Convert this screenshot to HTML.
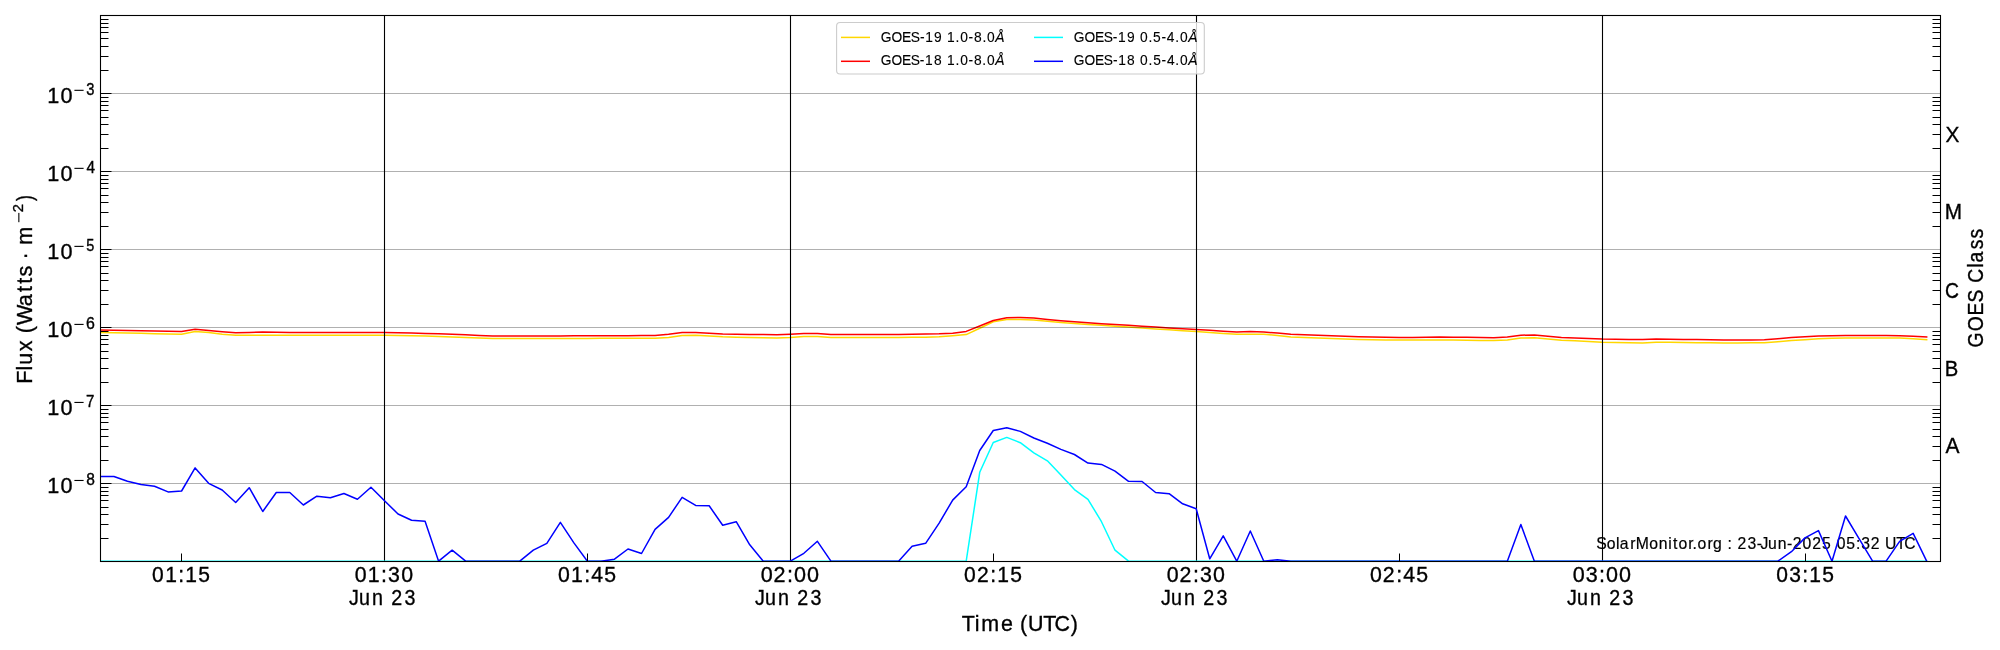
<!DOCTYPE html>
<html><head><meta charset="utf-8"><style>
html,body{margin:0;padding:0;background:#fff;width:2000px;height:650px;overflow:hidden;}
svg{display:block;will-change:transform;}
text{font-family:"Liberation Sans",sans-serif;stroke:#000;stroke-width:0.35px;}
</style></head><body>
<svg width="2000" height="650" viewBox="0 0 2000 650">
<rect x="0" y="0" width="2000" height="650" fill="#fff"/>
<text transform="translate(0,548.90) scale(0.9779,1.0000)" x="1632.44 1643.00 1652.64 1656.33 1667.02 1672.65 1686.41 1696.18 1705.97 1710.71 1716.36 1726.46 1730.85 1735.89 1745.99 1751.68 1761.22 1766.59 1771.46 1776.72 1786.89 1796.47 1800.42 1807.89 1817.87 1827.41 1833.20 1843.35 1853.09 1863.19 1872.70 1878.17 1888.05 1897.97 1903.35 1913.07 1922.73 1927.61 1939.01 1947.34" y="0" font-size="16.11" fill="#000" style="white-space:pre;stroke-width:0.2px">SolarMonitor.org : 23-Jun-2025 05:32 UTC</text>
<defs><clipPath id="ax"><rect x="100.5" y="15.5" width="1840.0" height="546.0"/></clipPath></defs>
<g clip-path="url(#ax)" fill="none" stroke-width="1.5" stroke-linejoin="round" stroke-linecap="square">
<path d="M100.41 332.50 L113.94 332.78 L127.47 333.07 L141.00 333.35 L154.52 333.63 L168.05 333.92 L181.58 334.20 L195.11 331.40 L208.64 332.50 L222.16 334.30 L235.69 335.30 L249.22 335.20 L262.75 335.20 L276.28 335.20 L289.80 335.20 L303.33 335.20 L316.86 335.20 L330.39 335.20 L343.92 335.20 L357.44 335.20 L370.97 335.20 L384.50 335.20 L398.03 335.47 L411.56 335.73 L425.08 336.00 L438.61 336.50 L452.14 337.00 L465.67 337.50 L479.20 338.00 L492.72 338.50 L506.25 338.48 L519.78 338.47 L533.31 338.45 L546.84 338.43 L560.36 338.42 L573.89 338.40 L587.42 338.38 L600.95 338.37 L614.48 338.35 L628.00 338.33 L641.53 338.32 L655.06 338.30 L668.59 337.50 L682.12 335.50 L695.64 335.20 L709.17 336.00 L722.70 336.80 L736.23 337.20 L749.76 337.60 L763.28 337.80 L776.81 338.00 L790.34 337.50 L803.87 336.40 L817.40 336.60 L830.92 337.50 L844.45 337.48 L857.98 337.46 L871.51 337.44 L885.04 337.42 L898.56 337.40 L912.09 337.30 L925.62 337.20 L939.15 336.80 L952.68 335.80 L966.20 334.60 L979.73 328.30 L993.26 321.80 L1006.79 319.40 L1020.32 319.40 L1033.84 319.90 L1047.37 321.30 L1060.90 322.50 L1074.43 323.50 L1087.96 324.40 L1101.48 325.30 L1115.01 326.20 L1128.54 327.10 L1142.07 328.00 L1155.60 328.90 L1169.12 329.80 L1182.65 330.70 L1196.18 331.60 L1209.71 332.50 L1223.24 333.40 L1236.76 334.30 L1250.29 334.25 L1263.82 334.20 L1277.35 335.60 L1290.88 337.00 L1304.40 337.52 L1317.93 338.05 L1331.46 338.58 L1344.99 339.10 L1358.52 339.43 L1372.04 339.77 L1385.57 340.10 L1399.10 340.08 L1412.63 340.05 L1426.16 340.02 L1439.68 340.00 L1453.21 340.12 L1466.74 340.25 L1480.27 340.38 L1493.80 340.50 L1507.32 340.00 L1520.85 338.00 L1534.38 337.80 L1547.91 339.00 L1561.44 340.20 L1574.96 340.87 L1588.49 341.53 L1602.02 342.20 L1615.55 342.43 L1629.08 342.67 L1642.60 342.90 L1656.13 342.20 L1669.66 342.35 L1683.19 342.50 L1696.72 342.67 L1710.24 342.83 L1723.77 343.00 L1737.30 342.93 L1750.83 342.87 L1764.36 342.80 L1777.88 341.65 L1791.41 340.50 L1804.94 339.65 L1818.47 338.80 L1832.00 338.35 L1845.52 337.90 L1859.05 337.90 L1872.58 337.90 L1886.11 338.00 L1899.64 338.10 L1913.16 338.85 L1926.69 339.60" stroke="#ffd700"/>
<path d="M100.41 330.00 L113.94 330.27 L127.47 330.53 L141.00 330.80 L154.52 331.07 L168.05 331.33 L181.58 331.60 L195.11 329.20 L208.64 330.50 L222.16 331.80 L235.69 332.80 L249.22 332.50 L262.75 332.00 L276.28 332.30 L289.80 332.60 L303.33 332.59 L316.86 332.57 L330.39 332.56 L343.92 332.54 L357.44 332.53 L370.97 332.51 L384.50 332.50 L398.03 332.80 L411.56 333.10 L425.08 333.40 L438.61 333.87 L452.14 334.33 L465.67 334.80 L479.20 335.40 L492.72 336.00 L506.25 335.98 L519.78 335.95 L533.31 335.93 L546.84 335.90 L560.36 335.88 L573.89 335.85 L587.42 335.82 L600.95 335.80 L614.48 335.73 L628.00 335.65 L641.53 335.57 L655.06 335.50 L668.59 334.20 L682.12 332.50 L695.64 332.50 L709.17 333.20 L722.70 334.00 L736.23 334.20 L749.76 334.40 L763.28 334.60 L776.81 334.80 L790.34 334.20 L803.87 333.40 L817.40 333.50 L830.92 334.50 L844.45 334.48 L857.98 334.46 L871.51 334.44 L885.04 334.42 L898.56 334.40 L912.09 334.30 L925.62 334.10 L939.15 333.80 L952.68 333.20 L966.20 331.40 L979.73 326.00 L993.26 320.50 L1006.79 317.70 L1020.32 317.40 L1033.84 318.10 L1047.37 319.50 L1060.90 320.70 L1074.43 321.80 L1087.96 322.80 L1101.48 323.65 L1115.01 324.50 L1128.54 325.35 L1142.07 326.20 L1155.60 327.05 L1169.12 327.90 L1182.65 328.75 L1196.18 329.60 L1209.71 330.37 L1223.24 331.13 L1236.76 331.90 L1250.29 331.60 L1263.82 332.00 L1277.35 333.10 L1290.88 334.20 L1304.40 334.73 L1317.93 335.25 L1331.46 335.77 L1344.99 336.30 L1358.52 336.63 L1372.04 336.97 L1385.57 337.30 L1399.10 337.40 L1412.63 337.50 L1426.16 337.25 L1439.68 337.00 L1453.21 337.18 L1466.74 337.35 L1480.27 337.52 L1493.80 337.70 L1507.32 337.00 L1520.85 335.20 L1534.38 335.00 L1547.91 336.20 L1561.44 337.40 L1574.96 337.97 L1588.49 338.53 L1602.02 339.10 L1615.55 339.27 L1629.08 339.43 L1642.60 339.60 L1656.13 339.00 L1669.66 339.20 L1683.19 339.40 L1696.72 339.60 L1710.24 339.80 L1723.77 340.00 L1737.30 340.00 L1750.83 340.00 L1764.36 339.80 L1777.88 338.65 L1791.41 337.50 L1804.94 336.80 L1818.47 336.10 L1832.00 335.75 L1845.52 335.40 L1859.05 335.40 L1872.58 335.40 L1886.11 335.60 L1899.64 335.80 L1913.16 336.35 L1926.69 336.90" stroke="#ff0000"/>
</g>
<path d="M100.5 483.5H1940.5M100.5 405.5H1940.5M100.5 327.5H1940.5M100.5 249.5H1940.5M100.5 171.5H1940.5M100.5 93.5H1940.5" stroke="#000" stroke-opacity="0.31" stroke-width="1.0" fill="none"/>
<path d="M384.5 15.5V561.5M790.5 15.5V561.5M1196.5 15.5V561.5M1602.5 15.5V561.5" stroke="#000" stroke-width="1.1" fill="none"/>
<g clip-path="url(#ax)" fill="none" stroke-width="1.5" stroke-linejoin="round" stroke-linecap="square">
<path d="M100.41 561.20 L113.94 561.20 L127.47 561.20 L141.00 561.20 L154.52 561.20 L168.05 561.20 L181.58 561.20 L195.11 561.20 L208.64 561.20 L222.16 561.20 L235.69 561.20 L249.22 561.20 L262.75 561.20 L276.28 561.20 L289.80 561.20 L303.33 561.20 L316.86 561.20 L330.39 561.20 L343.92 561.20 L357.44 561.20 L370.97 561.20 L384.50 561.20 L398.03 561.20 L411.56 561.20 L425.08 561.20 L438.61 561.20 L452.14 561.20 L465.67 561.20 L479.20 561.20 L492.72 561.20 L506.25 561.20 L519.78 561.20 L533.31 561.20 L546.84 561.20 L560.36 561.20 L573.89 561.20 L587.42 561.20 L600.95 561.20 L614.48 561.20 L628.00 561.20 L641.53 561.20 L655.06 561.20 L668.59 561.20 L682.12 561.20 L695.64 561.20 L709.17 561.20 L722.70 561.20 L736.23 561.20 L749.76 561.20 L763.28 561.20 L776.81 561.20 L790.34 561.20 L803.87 561.20 L817.40 561.20 L830.92 561.20 L844.45 561.20 L857.98 561.20 L871.51 561.20 L885.04 561.20 L898.56 561.20 L912.09 561.20 L925.62 561.20 L939.15 561.20 L952.68 561.20 L966.20 561.20 L979.73 472.30 L993.26 442.50 L1006.79 437.40 L1020.32 442.70 L1033.84 452.90 L1047.37 460.80 L1060.90 475.00 L1074.43 489.60 L1087.96 499.30 L1101.48 521.70 L1115.01 550.20 L1128.54 561.20 L1142.07 561.20 L1155.60 561.20 L1169.12 561.20 L1182.65 561.20 L1196.18 561.20 L1209.71 561.20 L1223.24 561.20 L1236.76 561.20 L1250.29 561.20 L1263.82 561.20 L1277.35 561.20 L1290.88 561.20 L1304.40 561.20 L1317.93 561.20 L1331.46 561.20 L1344.99 561.20 L1358.52 561.20 L1372.04 561.20 L1385.57 561.20 L1399.10 561.20 L1412.63 561.20 L1426.16 561.20 L1439.68 561.20 L1453.21 561.20 L1466.74 561.20 L1480.27 561.20 L1493.80 561.20 L1507.32 561.20 L1520.85 561.20 L1534.38 561.20 L1547.91 561.20 L1561.44 561.20 L1574.96 561.20 L1588.49 561.20 L1602.02 561.20 L1615.55 561.20 L1629.08 561.20 L1642.60 561.20 L1656.13 561.20 L1669.66 561.20 L1683.19 561.20 L1696.72 561.20 L1710.24 561.20 L1723.77 561.20 L1737.30 561.20 L1750.83 561.20 L1764.36 561.20 L1777.88 561.20 L1791.41 561.20 L1804.94 561.20 L1818.47 561.20 L1832.00 561.20 L1845.52 561.20 L1859.05 561.20 L1872.58 561.20 L1886.11 561.20 L1899.64 561.20 L1913.16 561.20 L1926.69 561.20" stroke="#00ffff"/>
<path d="M100.41 476.50 L113.94 476.50 L127.47 481.30 L141.00 484.60 L154.52 486.20 L168.05 491.90 L181.58 491.00 L195.11 467.90 L208.64 483.30 L222.16 490.00 L235.69 502.50 L249.22 487.70 L262.75 511.50 L276.28 492.50 L289.80 492.50 L303.33 505.00 L316.86 496.20 L330.39 497.70 L343.92 493.50 L357.44 499.20 L370.97 487.30 L384.50 500.70 L398.03 514.00 L411.56 520.20 L425.08 521.30 L438.61 561.20 L452.14 550.20 L465.67 561.20 L479.20 561.20 L492.72 561.20 L506.25 561.20 L519.78 561.20 L533.31 550.20 L546.84 543.30 L560.36 522.30 L573.89 542.90 L587.42 561.20 L600.95 561.20 L614.48 559.20 L628.00 549.00 L641.53 553.50 L655.06 529.40 L668.59 517.40 L682.12 497.30 L695.64 505.40 L709.17 505.80 L722.70 525.20 L736.23 521.70 L749.76 544.80 L763.28 561.20 L776.81 561.20 L790.34 561.20 L803.87 553.30 L817.40 541.30 L830.92 561.20 L844.45 561.20 L857.98 561.20 L871.51 561.20 L885.04 561.20 L898.56 561.20 L912.09 546.30 L925.62 543.30 L939.15 523.10 L952.68 500.10 L966.20 486.80 L979.73 450.50 L993.26 430.50 L1006.79 427.80 L1020.32 431.40 L1033.84 438.00 L1047.37 443.30 L1060.90 449.40 L1074.43 454.50 L1087.96 463.10 L1101.48 464.40 L1115.01 471.20 L1128.54 481.30 L1142.07 481.50 L1155.60 492.50 L1169.12 493.70 L1182.65 503.80 L1196.18 508.70 L1209.71 558.80 L1223.24 535.80 L1236.76 561.20 L1250.29 531.00 L1263.82 561.20 L1277.35 559.80 L1290.88 561.20 L1304.40 561.20 L1317.93 561.20 L1331.46 561.20 L1344.99 561.20 L1358.52 561.20 L1372.04 561.20 L1385.57 561.20 L1399.10 561.20 L1412.63 561.20 L1426.16 561.20 L1439.68 561.20 L1453.21 561.20 L1466.74 561.20 L1480.27 561.20 L1493.80 561.20 L1507.32 561.20 L1520.85 524.50 L1534.38 561.20 L1547.91 561.20 L1561.44 561.20 L1574.96 561.20 L1588.49 561.20 L1602.02 561.20 L1615.55 561.20 L1629.08 561.20 L1642.60 561.20 L1656.13 561.20 L1669.66 561.20 L1683.19 561.20 L1696.72 561.20 L1710.24 561.20 L1723.77 561.20 L1737.30 561.20 L1750.83 561.20 L1764.36 561.20 L1777.88 561.20 L1791.41 551.70 L1804.94 537.90 L1818.47 530.60 L1832.00 561.20 L1845.52 516.00 L1859.05 538.70 L1872.58 561.20 L1886.11 561.20 L1899.64 541.40 L1913.16 533.30 L1926.69 561.20" stroke="#0000ff"/>
</g>
<rect x="836.6" y="22.5" width="367.7" height="51.5" rx="3.5" ry="3.5" fill="#fff" fill-opacity="0.8" stroke="#cccccc" stroke-width="1.1"/>
<path d="M841 37.4H870" stroke="#ffd700" stroke-width="1.5"/>
<path d="M841 61.3H870" stroke="#ff0000" stroke-width="1.5"/>
<path d="M1034 37.4H1063" stroke="#00ffff" stroke-width="1.5"/>
<path d="M1034 61.3H1063" stroke="#0000ff" stroke-width="1.5"/>
<rect x="100.5" y="15.5" width="1840.0" height="546.0" fill="none" stroke="#000" stroke-width="1.1"/>
<path d="M100.5 538.5h8M1940.5 538.5h-8M100.5 524.5h8M1940.5 524.5h-8M100.5 514.5h8M1940.5 514.5h-8M100.5 507.5h8M1940.5 507.5h-8M100.5 500.5h8M1940.5 500.5h-8M100.5 495.5h8M1940.5 495.5h-8M100.5 491.5h8M1940.5 491.5h-8M100.5 487.5h8M1940.5 487.5h-8M100.5 460.5h8M1940.5 460.5h-8M100.5 446.5h8M1940.5 446.5h-8M100.5 436.5h8M1940.5 436.5h-8M100.5 429.5h8M1940.5 429.5h-8M100.5 422.5h8M1940.5 422.5h-8M100.5 417.5h8M1940.5 417.5h-8M100.5 413.5h8M1940.5 413.5h-8M100.5 409.5h8M1940.5 409.5h-8M100.5 382.5h8M1940.5 382.5h-8M100.5 368.5h8M1940.5 368.5h-8M100.5 358.5h8M1940.5 358.5h-8M100.5 351.5h8M1940.5 351.5h-8M100.5 344.5h8M1940.5 344.5h-8M100.5 339.5h8M1940.5 339.5h-8M100.5 335.5h8M1940.5 335.5h-8M100.5 331.5h8M1940.5 331.5h-8M100.5 304.5h8M1940.5 304.5h-8M100.5 290.5h8M1940.5 290.5h-8M100.5 280.5h8M1940.5 280.5h-8M100.5 273.5h8M1940.5 273.5h-8M100.5 266.5h8M1940.5 266.5h-8M100.5 261.5h8M1940.5 261.5h-8M100.5 257.5h8M1940.5 257.5h-8M100.5 253.5h8M1940.5 253.5h-8M100.5 226.5h8M1940.5 226.5h-8M100.5 212.5h8M1940.5 212.5h-8M100.5 202.5h8M1940.5 202.5h-8M100.5 195.5h8M1940.5 195.5h-8M100.5 188.5h8M1940.5 188.5h-8M100.5 183.5h8M1940.5 183.5h-8M100.5 179.5h8M1940.5 179.5h-8M100.5 175.5h8M1940.5 175.5h-8M100.5 148.5h8M1940.5 148.5h-8M100.5 134.5h8M1940.5 134.5h-8M100.5 124.5h8M1940.5 124.5h-8M100.5 117.5h8M1940.5 117.5h-8M100.5 110.5h8M1940.5 110.5h-8M100.5 105.5h8M1940.5 105.5h-8M100.5 101.5h8M1940.5 101.5h-8M100.5 97.5h8M1940.5 97.5h-8M100.5 70.5h8M1940.5 70.5h-8M100.5 56.5h8M1940.5 56.5h-8M100.5 46.5h8M1940.5 46.5h-8M100.5 38.5h8M1940.5 38.5h-8M100.5 32.5h8M1940.5 32.5h-8M100.5 27.5h8M1940.5 27.5h-8M100.5 23.5h8M1940.5 23.5h-8M100.5 19.5h8M1940.5 19.5h-8M100.5 483.5h11M100.5 405.5h11M100.5 327.5h11M100.5 249.5h11M100.5 171.5h11M100.5 93.5h11M181.5 561.5v-8M587.5 561.5v-8M993.5 561.5v-8M1399.5 561.5v-8M1805.5 561.5v-8" stroke="#000" stroke-width="1.0" fill="none"/>
<text transform="translate(0,492.87) scale(0.9808,1.0000)" x="48.06 61.78" y="0" font-size="22.07" fill="#000" style="white-space:pre">10</text>
<rect x="74.4" y="479.92" width="9.2" height="1.1" fill="#000"/>
<text transform="translate(0,484.77) scale(1.0056,1.1000)" x="85.74" y="0" font-size="15.45" fill="#000" style="white-space:pre">8</text>
<text transform="translate(0,414.84) scale(0.9808,1.0000)" x="48.06 61.78" y="0" font-size="22.07" fill="#000" style="white-space:pre">10</text>
<rect x="74.4" y="401.89" width="9.2" height="1.1" fill="#000"/>
<text transform="translate(0,406.74) scale(0.9732,1.1000)" x="88.50" y="0" font-size="15.45" fill="#000" style="white-space:pre">7</text>
<text transform="translate(0,336.81) scale(0.9808,1.0000)" x="48.06 61.78" y="0" font-size="22.07" fill="#000" style="white-space:pre">10</text>
<rect x="74.4" y="323.86" width="9.2" height="1.1" fill="#000"/>
<text transform="translate(0,328.71) scale(1.0296,1.1000)" x="83.61" y="0" font-size="15.45" fill="#000" style="white-space:pre">6</text>
<text transform="translate(0,258.78) scale(0.9808,1.0000)" x="48.06 61.78" y="0" font-size="22.07" fill="#000" style="white-space:pre">10</text>
<rect x="74.4" y="245.83" width="9.2" height="1.1" fill="#000"/>
<text transform="translate(0,250.68) scale(0.9389,1.1000)" x="91.94" y="0" font-size="15.45" fill="#000" style="white-space:pre">5</text>
<text transform="translate(0,180.75) scale(0.9808,1.0000)" x="48.06 61.78" y="0" font-size="22.07" fill="#000" style="white-space:pre">10</text>
<rect x="74.4" y="167.80" width="9.2" height="1.1" fill="#000"/>
<text transform="translate(0,172.65) scale(0.9950,1.1000)" x="86.98" y="0" font-size="15.45" fill="#000" style="white-space:pre">4</text>
<text transform="translate(0,102.72) scale(0.9808,1.0000)" x="48.06 61.78" y="0" font-size="22.07" fill="#000" style="white-space:pre">10</text>
<rect x="74.4" y="89.77" width="9.2" height="1.1" fill="#000"/>
<text transform="translate(0,94.62) scale(0.9554,1.1000)" x="90.37" y="0" font-size="15.45" fill="#000" style="white-space:pre">3</text>
<text transform="translate(0,581.80) scale(0.9525,1.0000)" x="159.71 173.37 187.10 194.44 208.24" y="0" font-size="22.07" fill="#000" style="white-space:pre">01:15</text>
<text transform="translate(0,581.80) scale(0.9670,1.0000)" x="366.93 380.39 393.96 401.28 414.82" y="0" font-size="22.07" fill="#000" style="white-space:pre">01:30</text>
<text transform="translate(0,604.80) scale(0.8919,1.0000)" x="391.42 402.47 417.10 430.45 438.59 453.51" y="0" font-size="22.07" fill="#000" style="white-space:pre">Jun 23</text>
<text transform="translate(0,581.80) scale(0.9633,1.0000)" x="579.30 592.81 606.42 613.75 627.29" y="0" font-size="22.07" fill="#000" style="white-space:pre">01:45</text>
<text transform="translate(0,581.80) scale(0.9780,1.0000)" x="777.86 791.00 804.62 811.80 825.21" y="0" font-size="22.07" fill="#000" style="white-space:pre">02:00</text>
<text transform="translate(0,604.80) scale(0.8919,1.0000)" x="846.64 857.68 872.32 885.67 893.81 908.73" y="0" font-size="22.07" fill="#000" style="white-space:pre">Jun 23</text>
<text transform="translate(0,581.80) scale(0.9544,1.0000)" x="1010.20 1023.66 1037.54 1044.87 1058.64" y="0" font-size="22.07" fill="#000" style="white-space:pre">02:15</text>
<text transform="translate(0,581.80) scale(0.9686,1.0000)" x="1204.58 1217.85 1231.57 1238.87 1252.39" y="0" font-size="22.07" fill="#000" style="white-space:pre">02:30</text>
<text transform="translate(0,604.80) scale(0.8919,1.0000)" x="1301.85 1312.90 1327.54 1340.89 1349.03 1363.95" y="0" font-size="22.07" fill="#000" style="white-space:pre">Jun 23</text>
<text transform="translate(0,581.80) scale(0.9650,1.0000)" x="1419.71 1433.03 1446.79 1454.10 1467.62" y="0" font-size="22.07" fill="#000" style="white-space:pre">02:45</text>
<text transform="translate(0,581.80) scale(0.9769,1.0000)" x="1609.93 1623.39 1636.72 1643.91 1657.34" y="0" font-size="22.07" fill="#000" style="white-space:pre">03:00</text>
<text transform="translate(0,604.80) scale(0.8919,1.0000)" x="1757.07 1768.12 1782.76 1796.11 1804.25 1819.16" y="0" font-size="22.07" fill="#000" style="white-space:pre">Jun 23</text>
<text transform="translate(0,581.80) scale(0.9535,1.0000)" x="1862.77 1876.56 1890.13 1897.47 1911.25" y="0" font-size="22.07" fill="#000" style="white-space:pre">03:15</text>
<text transform="translate(0,630.80) scale(0.9722,1.0000)" x="989.38 1002.58 1009.37 1029.52 1042.24 1049.06 1057.40 1073.10 1084.58 1101.27" y="0" font-size="22.07" fill="#000" style="white-space:pre">Time (UTC)</text>
<text transform="translate(0,141.70) scale(0.9445,1.0000)" x="2059.86" y="0" font-size="22.07" fill="#000" style="white-space:pre">X</text>
<text transform="translate(0,219.30) scale(0.9410,1.0000)" x="2066.73" y="0" font-size="22.07" fill="#000" style="white-space:pre">M</text>
<text transform="translate(0,297.60) scale(0.8761,1.0000)" x="2220.12" y="0" font-size="22.07" fill="#000" style="white-space:pre">C</text>
<text transform="translate(0,375.70) scale(0.9169,1.0000)" x="2121.06" y="0" font-size="22.07" fill="#000" style="white-space:pre">B</text>
<text transform="translate(0,453.40) scale(0.9507,1.0000)" x="2046.33" y="0" font-size="22.07" fill="#000" style="white-space:pre">A</text>
<g transform="translate(1983.3,346.8) rotate(-90)"><text transform="translate(0,0.00) scale(0.8773,1.0000)" x="-0.81 17.64 35.55 50.63 65.35 72.98 90.12 96.10 111.07 123.35" y="0" font-size="22.07" fill="#000" style="white-space:pre">GOES Class</text></g>
<g transform="translate(32.3,381) rotate(-90)"><text transform="translate(0,0.00) scale(0.9764,1.0000)" x="-2.74 10.69 16.68 30.37 42.25 48.96 57.48 76.68 91.22 99.58 107.07 118.00 124.49 131.56 139.60" y="0" font-size="22.07" fill="#000" style="white-space:pre">Flux (Watts · m</text></g>
<rect x="18.3" y="212.9" width="1.1" height="9.3" fill="#000"/>
<g transform="translate(23.4,211.4) rotate(-90)"><text transform="translate(0,0.00) scale(0.9589,1.0000)" x="-0.78" y="0" font-size="15.45" fill="#000" style="white-space:pre">2</text></g>
<g transform="translate(32.3,201.0) rotate(-90)"><text transform="translate(0,0.00) scale(0.7978,1.0000)" x="-0.13" y="0" font-size="22.07" fill="#000" style="white-space:pre">)</text></g>
<text transform="translate(0,41.80) scale(0.9477,1.0000)" x="929.41 940.75 951.81 961.12 970.69 976.23 985.48 994.20 999.30 1008.32 1013.22 1022.08 1027.68 1036.63 1041.53" y="0" font-size="14.57" fill="#000" style="white-space:pre;stroke-width:0.12px">GOES-19 1.0-8.0</text>
<text transform="translate(995.32,41.80) scale(0.9530,1.0000)" font-family="Liberation Sans" font-size="14.57" font-style="italic" fill="#000" style="stroke-width:0.12px">Å</text>
<text transform="translate(0,65.00) scale(0.9460,1.0000)" x="931.04 942.40 953.48 962.80 972.39 977.94 987.25 995.93 1001.05 1010.08 1014.99 1023.86 1029.48 1038.44 1043.35" y="0" font-size="14.57" fill="#000" style="white-space:pre;stroke-width:0.12px">GOES-18 1.0-8.0</text>
<text transform="translate(995.32,65.00) scale(0.9530,1.0000)" font-family="Liberation Sans" font-size="14.57" font-style="italic" fill="#000" style="stroke-width:0.12px">Å</text>
<text transform="translate(0,41.80) scale(0.9462,1.0000)" x="1134.80 1146.16 1157.24 1166.56 1176.14 1181.69 1190.96 1199.68 1204.87 1213.83 1218.68 1227.61 1233.22 1242.18 1247.09" y="0" font-size="14.57" fill="#000" style="white-space:pre;stroke-width:0.12px">GOES-19 0.5-4.0</text>
<text transform="translate(1188.32,41.80) scale(0.9530,1.0000)" font-family="Liberation Sans" font-size="14.57" font-style="italic" fill="#000" style="stroke-width:0.12px">Å</text>
<text transform="translate(0,65.00) scale(0.9446,1.0000)" x="1136.76 1148.14 1159.24 1168.57 1178.17 1183.73 1193.06 1201.75 1206.95 1215.92 1220.78 1229.72 1235.35 1244.32 1249.24" y="0" font-size="14.57" fill="#000" style="white-space:pre;stroke-width:0.12px">GOES-18 0.5-4.0</text>
<text transform="translate(1188.32,65.00) scale(0.9530,1.0000)" font-family="Liberation Sans" font-size="14.57" font-style="italic" fill="#000" style="stroke-width:0.12px">Å</text>
</svg>
</body></html>
